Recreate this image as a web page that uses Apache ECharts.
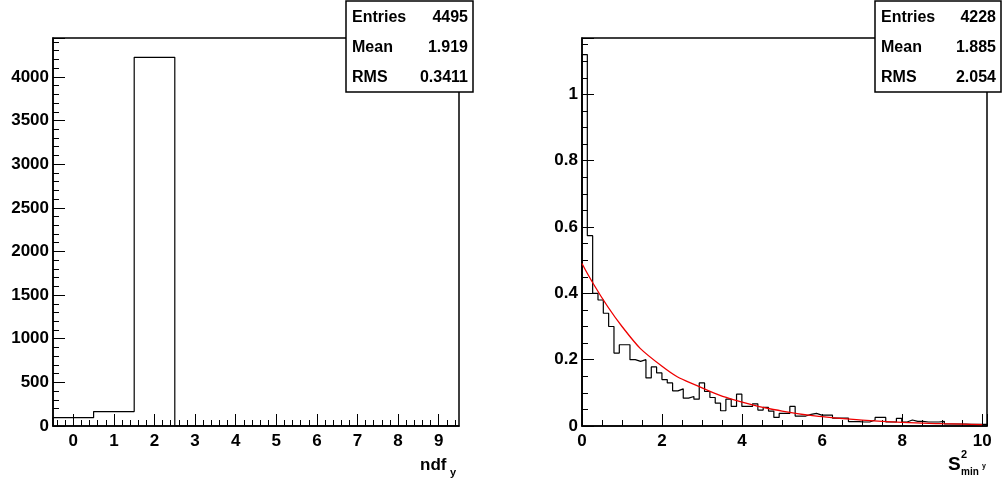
<!DOCTYPE html>
<html>
<head>
<meta charset="utf-8">
<script src="https://cdn.jsdelivr.net/npm/echarts@6/dist/echarts.min.js"></script>
<style>html,body{margin:0;background:#fff}#main{width:1002px;height:485px}</style>
</head>
<body>
<div id="main"></div>
<script>
// left histogram: ndf_y, bins of width 1 centred on integers
var ndfEdgesMin = -0.5;
var ndfValues = [95, 165, 4225, 0, 0, 0, 0, 0, 0, 0];
var ndfStats = [['Entries', '4495'], ['Mean', '1.919'], ['RMS', '0.3411']];

// right histogram: S^2_min y, 76 bins from 0 to 10.12
var sMax = 10.12;
var sValues = [1.12, 0.574, 0.40, 0.38, 0.34, 0.30, 0.22, 0.245, 0.245, 0.20,
  0.195, 0.20, 0.145, 0.178, 0.16, 0.14, 0.13, 0.106, 0.112, 0.084,
  0.089, 0.081, 0.13, 0.104, 0.086, 0.069, 0.046, 0.081, 0.059, 0.096,
  0.059, 0.059, 0.067, 0.048, 0.056, 0.045, 0.026, 0.038, 0.038, 0.059,
  0.03, 0.03, 0.035, 0.038, 0.033, 0.033, 0.033, 0.024, 0.024, 0.024,
  0.013, 0.013, 0.012, 0.012, 0.018, 0.026, 0.026, 0.012, 0.012, 0.023,
  0.012, 0.018, 0.014, 0.014, 0.012, 0.012, 0.012, 0.014, 0.006, 0.006,
  0.006, 0.006, 0.005, 0.005, 0.005, 0.005];
var sLabels = [0, 2, 4, 6, 8, 10];
var fitX = [0, 1, 2, 3, 4, 5, 6, 7, 8, 9, 10];
var fitY = [0.49, 0.30, 0.18, 0.115, 0.072, 0.045, 0.028, 0.018, 0.011, 0.007, 0.004];
var sStats = [['Entries', '4228'], ['Mean', '1.885'], ['RMS', '2.054']];

function outline(lo, width, vals) {
  var pts = [[lo, 0]];
  vals.forEach(function (v, i) {
    pts.push([lo + i * width, v], [lo + (i + 1) * width, v]);
  });
  pts.push([lo + vals.length * width, 0]);
  return pts;
}

var majorX = [], minorX = [];
for (var i = 0; i <= 9; i++) majorX.push(i);
for (var j = -2; j <= 47; j++) minorX.push(+(j * 0.2).toFixed(2));

var font = 'Liberation Sans, Arial, sans-serif';
var lab = { color: '#000', fontWeight: 'bold', fontSize: 17, fontFamily: font,
  formatter: function (v) { return String(v); } };
var axLine = { show: true, onZero: false, lineStyle: { color: '#000', width: 1.5 } };

function statsBox(x, y, w, rows) {
  var els = [{ type: 'rect', shape: { x: x, y: y, width: w, height: 91 },
    style: { fill: '#fff', stroke: '#000', lineWidth: 1.5 }, z: 100 }];
  rows.forEach(function (r, k) {
    var ty = y + 17 + k * 30;
    els.push({ type: 'text', x: x + 6, y: ty, z: 101,
      style: { text: r[0], fill: '#000', font: 'bold 16px ' + font, verticalAlign: 'middle' } });
    els.push({ type: 'text', x: x + w - 5, y: ty, z: 101,
      style: { text: r[1], fill: '#000', font: 'bold 16px ' + font, align: 'right', verticalAlign: 'middle' } });
  });
  return els;
}

function txt(x, y, s, size) {
  return { type: 'text', x: x, y: y, z: 101,
    style: { text: s, fill: '#000', font: 'bold ' + size + 'px ' + font } };
}

var myChart = echarts.init(document.getElementById('main'));

var option = {
  animation: false,
  grid: [
    { left: 53, top: 38, width: 406, height: 388, show: true, borderColor: '#000', borderWidth: 1.5, outerBoundsMode: 'none', containLabel: false },
    { left: 582, top: 38, width: 405, height: 388, show: true, borderColor: '#000', borderWidth: 1.5, outerBoundsMode: 'none', containLabel: false }
  ],
  xAxis: [
    { gridIndex: 0, type: 'value', position: 'bottom', min: -0.5, max: 9.5, axisLine: axLine, splitLine: { show: false },
      axisTick: { inside: true, length: 12, customValues: majorX, lineStyle: { color: '#000' } },
      axisLabel: Object.assign({}, lab, { customValues: majorX, margin: 7 }) },
    { gridIndex: 0, type: 'value', position: 'bottom', min: -0.5, max: 9.5, axisLine: { show: false, onZero: false }, splitLine: { show: false },
      axisTick: { inside: true, length: 6, customValues: minorX, lineStyle: { color: '#000' } },
      axisLabel: { show: false } },
    { gridIndex: 1, type: 'value', position: 'bottom', min: 0, max: sMax, interval: 2, axisLine: axLine, splitLine: { show: false },
      axisTick: { inside: true, length: 12, lineStyle: { color: '#000' } },
      minorTick: { show: true, splitNumber: 4, length: 6, lineStyle: { color: '#000' } },
      axisLabel: Object.assign({}, lab, { margin: 7, customValues: sLabels }) }
  ],
  yAxis: [
    { gridIndex: 0, type: 'value', position: 'left', min: 0, max: 4446, interval: 500, axisLine: axLine, splitLine: { show: false },
      axisTick: { inside: true, length: 12, lineStyle: { color: '#000' } },
      minorTick: { show: true, splitNumber: 5, length: 6, lineStyle: { color: '#000' } },
      axisLabel: Object.assign({}, lab, { margin: 4, showMaxLabel: false }) },
    { gridIndex: 1, type: 'value', position: 'left', min: 0, max: 1.17, interval: 0.2, axisLine: axLine, splitLine: { show: false },
      axisTick: { inside: true, length: 12, lineStyle: { color: '#000' } },
      minorTick: { show: true, splitNumber: 4, length: 6, lineStyle: { color: '#000' } },
      axisLabel: Object.assign({}, lab, { margin: 4, showMaxLabel: false }) }
  ],
  series: [
    { type: 'line', xAxisIndex: 0, yAxisIndex: 0, data: outline(ndfEdgesMin, 1, ndfValues),
      showSymbol: false, lineStyle: { color: '#000', width: 1.2 } },
    { type: 'line', xAxisIndex: 2, yAxisIndex: 1, data: outline(0, sMax / sValues.length, sValues),
      showSymbol: false, lineStyle: { color: '#000', width: 1.2 } },
    { type: 'line', xAxisIndex: 2, yAxisIndex: 1, smooth: true, showSymbol: false,
      data: fitX.map(function (x, k) { return [x, fitY[k]]; }),
      lineStyle: { color: '#e00', width: 1.3 }, z: 3 }
  ],
  graphic: statsBox(346, 1, 127, ndfStats).concat(statsBox(875, 1, 126, sStats)).concat([
    txt(420, 457, 'ndf', 17), txt(450, 467, 'y', 11),
    txt(948, 455, 'S', 19), txt(961, 449, '2', 11), txt(961, 467, 'min', 10), txt(982, 463, 'y', 7)
  ])
};

myChart.setOption(option);
</script>
</body>
</html>
